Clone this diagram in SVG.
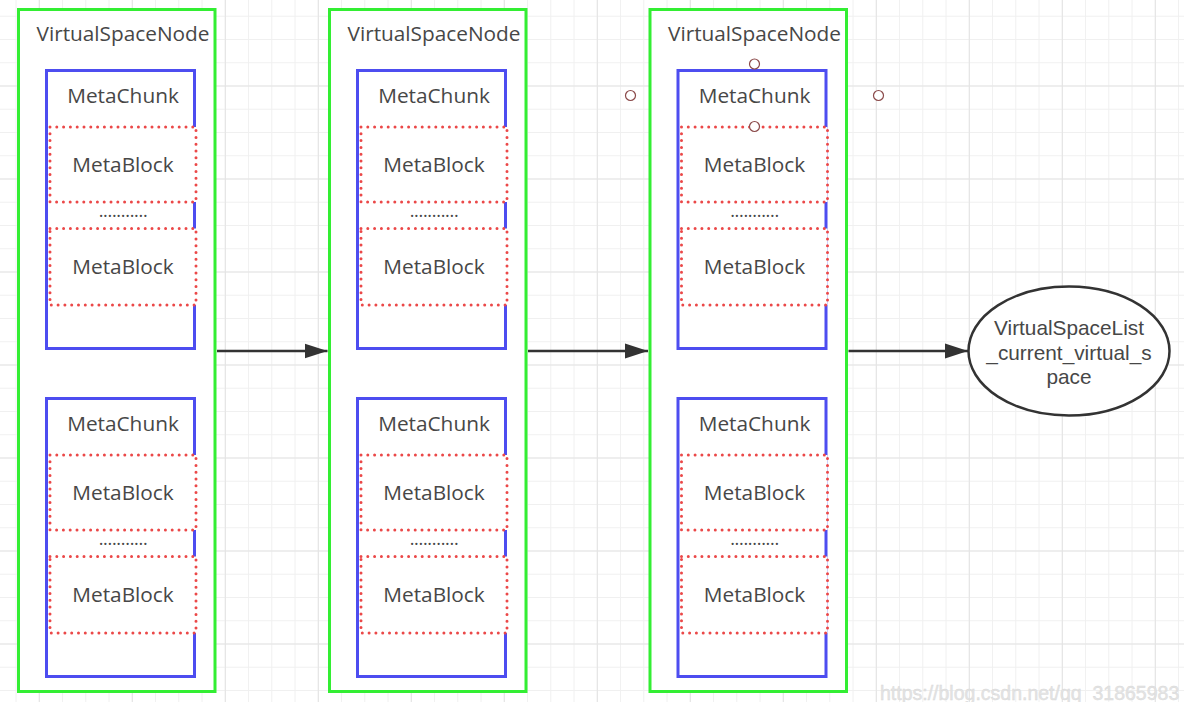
<svg xmlns="http://www.w3.org/2000/svg" xmlns:xlink="http://www.w3.org/1999/xlink" width="1184" height="702" viewBox="0 0 1184 702">
<defs>
<pattern id="gridMinor" patternUnits="userSpaceOnUse" x="15.55" y="15.75" width="23.25" height="23.25">
<rect x="0" y="0" width="23.25" height="1" fill="#f0f0f0"/>
<rect x="0" y="0" width="1" height="23.25" fill="#f0f0f0"/>
</pattern>
<pattern id="gridMajor" patternUnits="userSpaceOnUse" x="38.8" y="85.5" width="93" height="93">
<rect x="0" y="0" width="93" height="1" fill="#e3e3e3"/>
<rect x="0" y="0" width="1" height="93" fill="#e3e3e3"/>
</pattern>
<marker id="arrow" markerUnits="userSpaceOnUse" markerWidth="24" markerHeight="16" refX="23" refY="8" orient="auto">
<path d="M0,0.5 L23,8 L0,15.5 Z" fill="#333333"/>
</marker>
<g id="chunk">
<rect class="chunk" x="28" y="0" width="148" height="278"/>
<rect class="block" x="31.5" y="56.5" width="146" height="75"/>
<rect class="block" x="31.5" y="158" width="146" height="76.5"/>
<text class="lbl" x="104.5" y="32">MetaChunk</text>
<text class="lbl" x="104.5" y="101">MetaBlock</text>
<text class="dots" x="104.5" y="146">...........</text>
<text class="lbl" x="104.5" y="203">MetaBlock</text>
</g>
</defs>
<style>
.vsn{fill:#ffffff;stroke:#33ee33;stroke-width:3}
.chunk{fill:#ffffff;stroke:#4d4df0;stroke-width:3}
.block{fill:#ffffff;stroke:#eb4848;stroke-width:3;stroke-dasharray:0 6.8;stroke-linecap:round}
.lbl{font-family:"Open Sans","Noto Sans","Liberation Sans",sans-serif;font-size:20.8px;fill:#474747;text-anchor:middle}
.elbl{font-family:"Liberation Sans","Open Sans",sans-serif;font-size:20.8px;fill:#474747;text-anchor:middle}
.dots{font-family:"Open Sans","Noto Sans","Liberation Sans",sans-serif;font-size:18px;fill:#474747;text-anchor:middle;letter-spacing:-0.3px}
.conn{stroke:#333333;stroke-width:2.6;fill:none}
.handle{fill:#ffffff;stroke:#8b4a4a;stroke-width:1.2}
</style>
<rect x="0" y="0" width="1184" height="702" fill="#ffffff"/>
<rect x="0" y="0" width="1184" height="702" fill="url(#gridMinor)"/>
<rect x="0" y="0" width="1184" height="702" fill="url(#gridMajor)"/>

<g id="vsn1" transform="translate(18.5,0)">
<rect class="vsn" x="0" y="9.5" width="196.5" height="682"/>
<text class="lbl" x="104.5" y="40.5">VirtualSpaceNode</text>
<g id="vsn1-chunk1" transform="translate(0,70.5)"><use xlink:href="#chunk"/></g>
<g id="vsn1-chunk2" transform="translate(0,398.5)"><use xlink:href="#chunk"/></g>
</g>

<g id="vsn2" transform="translate(329.5,0)">
<rect class="vsn" x="0" y="9.5" width="196.5" height="682"/>
<text class="lbl" x="104.5" y="40.5">VirtualSpaceNode</text>
<g id="vsn2-chunk1" transform="translate(0,70.5)"><use xlink:href="#chunk"/></g>
<g id="vsn2-chunk2" transform="translate(0,398.5)"><use xlink:href="#chunk"/></g>
</g>

<g id="vsn3" transform="translate(650,0)">
<rect class="vsn" x="0" y="9.5" width="196.5" height="682"/>
<text class="lbl" x="104.5" y="40.5">VirtualSpaceNode</text>
<g id="vsn3-chunk1" transform="translate(0,70.5)"><use xlink:href="#chunk"/></g>
<g id="vsn3-chunk2" transform="translate(0,398.5)"><use xlink:href="#chunk"/></g>
</g>

<g id="current-virtual-space">
<ellipse cx="1069" cy="351" rx="100.5" ry="64.5" fill="#ffffff" stroke="#333333" stroke-width="2.5"/>
<text class="elbl" x="1069" y="335"><tspan x="1069" y="335">VirtualSpaceList</tspan><tspan x="1069" y="359.5">_current_virtual_s</tspan><tspan x="1069" y="384">pace</tspan></text>
</g>

<g id="connectors">
<line class="conn" x1="217" y1="351" x2="327.5" y2="351" marker-end="url(#arrow)"/>
<line class="conn" x1="528" y1="351" x2="648" y2="351" marker-end="url(#arrow)"/>
<line class="conn" x1="848.5" y1="351" x2="968" y2="351" marker-end="url(#arrow)"/>
</g>

<g id="selection-handles">
<circle class="handle" cx="630.5" cy="95.5" r="5"/>
<circle class="handle" cx="754.5" cy="64" r="5"/>
<circle class="handle" cx="754.5" cy="126.5" r="5"/>
<circle class="handle" cx="878.5" cy="95.5" r="5"/>
</g>

<text x="880" y="700" font-family="'Liberation Sans','Noto Sans',sans-serif" font-size="19.5" fill="#e4e4e4" stroke="#d8d8d8" stroke-width="0.4">https://blog.csdn.net/qq_31865983</text>
</svg>
